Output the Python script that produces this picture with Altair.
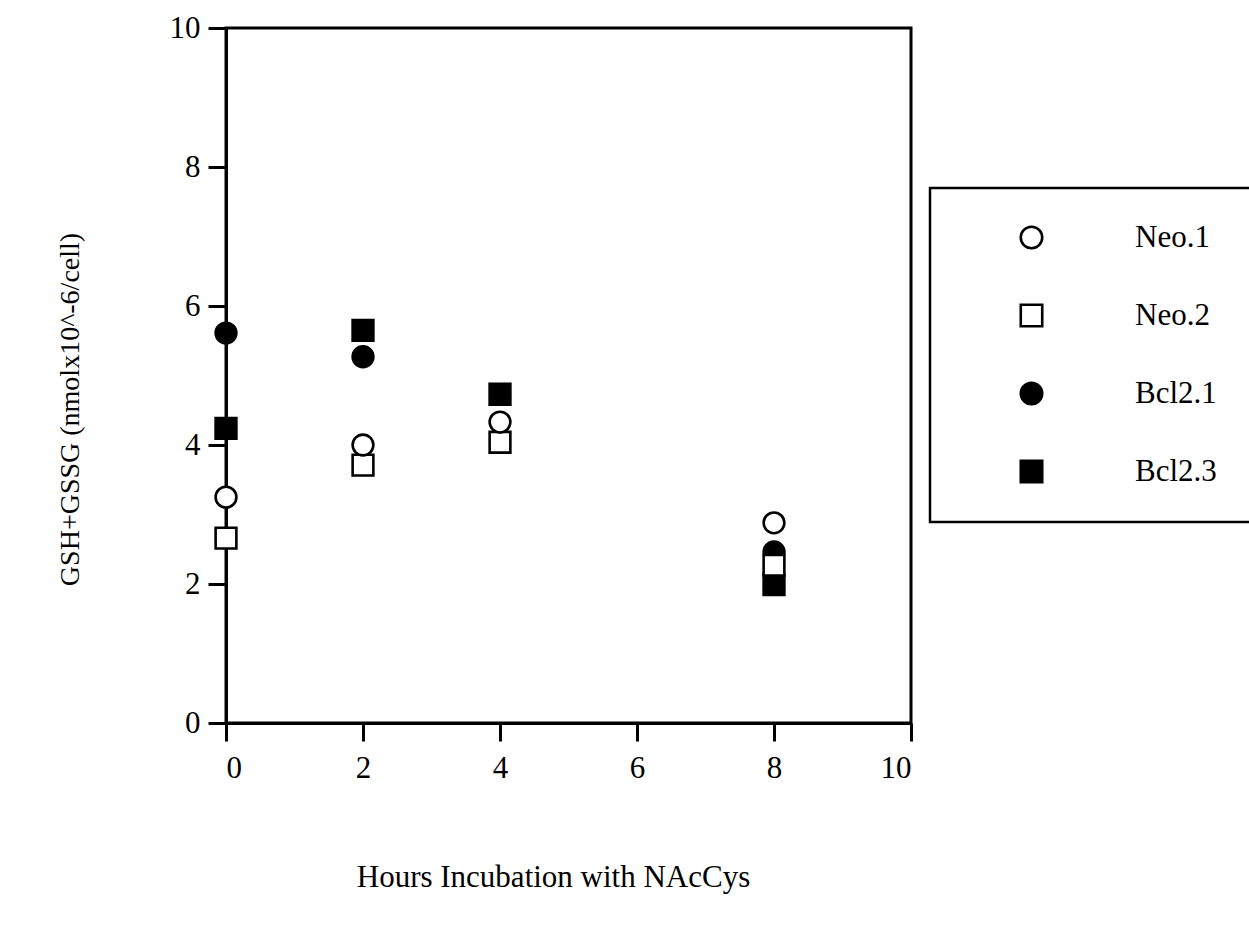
import altair as alt
import pandas as pd

hours = [0, 2, 4, 8]
series_names = ["Neo.1", "Neo.2", "Bcl2.1", "Bcl2.3"]
neo1 = [3.25, 4.0, 4.33, 2.88]
neo2 = [2.66, 3.71, 4.04, 2.27]
bcl21 = [5.61, 5.27, None, 2.46]
bcl23 = [4.24, 5.65, 4.73, 1.99]

# drawing order: filled markers first, open markers on top
draw_order = [("Bcl2.3", bcl23), ("Bcl2.1", bcl21), ("Neo.2", neo2), ("Neo.1", neo1)]
rows = []
for name, vals in draw_order:
    for h, v in zip(hours, vals):
        if v is not None:
            rows.append({"hours": h, "value": v, "series": name})
df = pd.DataFrame(rows)

FONT = "Liberation Serif"
leg = dict(title=None, orient="none", legendX=704, legendY=160)

points = alt.Chart(df).mark_point(
    filled=False, size=430, strokeWidth=2.6, opacity=1
).encode(
    x=alt.X("hours:Q",
            scale=alt.Scale(domain=[0, 10], nice=False, zero=False),
            axis=alt.Axis(values=[0, 2, 4, 6, 8, 10], title="Hours Incubation with NAcCys",
                          titleX=327, titleY=154, titleBaseline="middle", titleAlign="center")),
    y=alt.Y("value:Q",
            scale=alt.Scale(domain=[0, 10], nice=False),
            axis=alt.Axis(values=[0, 2, 4, 6, 8, 10], title="GSH+GSSG (nmolx10^-6/cell)",
                          titleX=-156, titleY=381, titleAngle=-90, titleBaseline="middle",
                          titleAlign="center")),
    shape=alt.Shape("series:N",
                    scale=alt.Scale(domain=series_names,
                                    range=["circle", "square", "circle", "square"]),
                    legend=alt.Legend(**leg)),
    fill=alt.Fill("series:N",
                  scale=alt.Scale(domain=series_names,
                                  range=["white", "white", "black", "black"]),
                  legend=alt.Legend(**leg)),
    stroke=alt.Stroke("series:N",
                      scale=alt.Scale(domain=series_names,
                                      range=["black", "black", "black", "black"]),
                      legend=alt.Legend(**leg)),
)

chart = points.properties(
    width=685, height=695,
    autosize=alt.AutoSizeParams(type="none"),
    padding={"left": 226, "top": 28, "right": 338, "bottom": 224},
    background="white",
).configure_view(
    stroke="black", strokeWidth=3
).configure_axis(
    grid=False,
    domainColor="black", domainWidth=3,
    tickColor="black", tickWidth=3, tickSize=18,
    labelFont=FONT, labelFontSize=31, labelColor="black",
    titleFont=FONT, titleFontSize=28, titleFontWeight="normal", titleColor="black",
).configure_axisY(
    labelPadding=8,
).configure_axisX(
    labelPadding=12,
    titleFontSize=31,
).configure_legend(
    strokeColor="black", strokeWidth=2.5, fillColor="white",
    padding=34, rowPadding=45, symbolOffset=52, labelOffset=88,
    symbolSize=460, symbolStrokeColor="black", symbolStrokeWidth=2.6,
    labelFont=FONT, labelFontSize=31, labelColor="black",
)

chart.save("out.html", embed_options={"renderer": "svg", "actions": False})
